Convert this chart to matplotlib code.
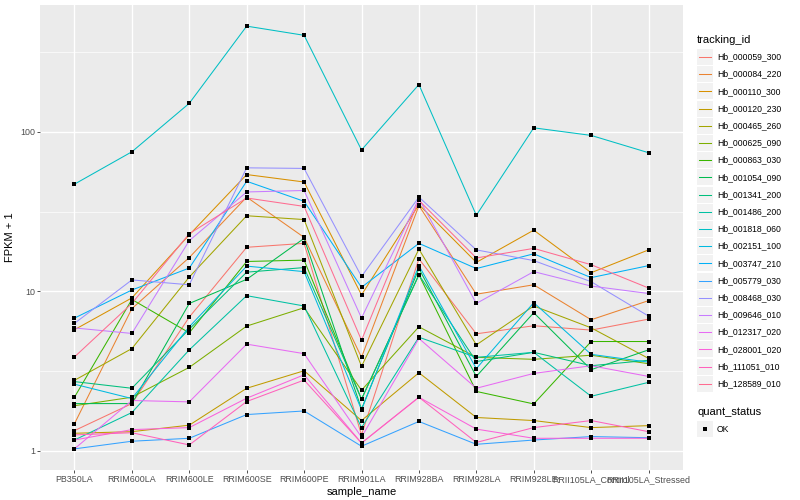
import numpy as np
import matplotlib
matplotlib.use('Agg')
import matplotlib.pyplot as plt
from matplotlib.patches import Rectangle
from matplotlib.lines import Line2D
from matplotlib.ticker import FixedLocator, NullFormatter

plt.rcParams['font.family'] = ['Liberation Sans', 'DejaVu Sans']

samples = ['PB350LA', 'RRIM600LA', 'RRIM600LE', 'RRIM600SE', 'RRIM600PE', 'RRIM901LA',
           'RRIM928BA', 'RRIM928LA', 'RRIM928LE', 'RRII105LA_Control', 'RRII105LA_Stressed']

tracking_ids = ['Hb_000059_300', 'Hb_000084_220', 'Hb_000110_300', 'Hb_000120_230',
                'Hb_000465_260', 'Hb_000625_090', 'Hb_000863_030', 'Hb_001054_090',
                'Hb_001341_200', 'Hb_001486_200', 'Hb_001818_060', 'Hb_002151_100',
                'Hb_003747_210', 'Hb_005779_030', 'Hb_008468_030', 'Hb_009646_010',
                'Hb_012317_020', 'Hb_028001_020', 'Hb_111051_010', 'Hb_128589_010']

# ggplot default hue palette for 20 levels
colors = ['#F8766D', '#EA8331', '#D89000', '#C09B00', '#A3A500', '#7CAE00', '#39B600',
          '#00BB4E', '#00BF7D', '#00C1A3', '#00BFC4', '#00BAE0', '#00B0F6', '#35A2FF',
          '#9590FF', '#C77CFF', '#E76BF3', '#FA62DB', '#FF62BC', '#FF6C91']

# FPKM + 1, one row per tracking_id, one column per sample
fpkm_plus_1 = [
    [1.34, 1.98, 6.9, 18.9, 20.0, 1.26, 16.0, 5.42, 6.09, 5.72, 6.7],
    [1.48, 7.8, 16.3, 39.0, 21.8, 3.86, 34.5, 9.6, 11.0, 6.64, 8.75],
    [5.75, 9.1, 22.6, 54.0, 48.5, 9.5, 35.0, 15.2, 24.2, 13.1, 18.2],
    [1.29, 1.32, 1.45, 2.47, 3.18, 1.55, 3.09, 1.62, 1.55, 1.40, 1.44],
    [2.77, 4.38, 12.3, 29.8, 28.2, 3.39, 18.4, 4.62, 8.1, 5.91, 3.8],
    [1.92, 2.17, 3.34, 6.06, 7.9, 2.40, 6.0, 3.86, 3.75, 3.98, 3.52],
    [2.17, 8.9, 5.5, 15.4, 15.7, 2.11, 12.7, 2.36, 1.97, 4.85, 4.85],
    [1.98, 1.98, 8.4, 11.9, 21.5, 1.83, 13.9, 2.93, 7.35, 3.23, 4.3],
    [2.72, 2.47, 5.8, 13.2, 14.1, 2.11, 12.7, 3.63, 4.15, 3.42, 3.7],
    [1.17, 1.74, 4.3, 9.4, 8.1, 1.40, 5.16, 3.86, 4.15, 2.2, 2.69],
    [47.0, 75.0, 151.0, 460.0, 403.0, 77.0, 198.0, 30.0, 106.0, 95.0, 74.0],
    [2.62, 2.13, 6.0, 14.4, 13.3, 1.81, 14.5, 3.28, 8.5, 4.03, 3.6],
    [6.8, 10.2, 14.0, 49.0, 36.7, 10.6, 20.0, 13.9, 17.2, 12.2, 14.5],
    [1.03, 1.15, 1.20, 1.69, 1.78, 1.07, 1.53, 1.10, 1.17, 1.23, 1.21],
    [6.3, 11.8, 11.0, 59.5, 59.0, 12.4, 39.0, 18.2, 15.6, 11.5, 7.0],
    [5.9, 5.45, 20.8, 42.0, 42.9, 6.8, 38.2, 8.4, 13.3, 10.8, 9.7],
    [1.03, 2.07, 2.03, 4.67, 4.07, 1.22, 5.07, 2.47, 3.06, 3.42, 2.93],
    [1.17, 1.36, 1.40, 2.14, 3.0, 1.12, 2.17, 1.37, 1.20, 1.20, 1.20],
    [1.26, 1.30, 1.09, 2.04, 2.78, 1.12, 2.17, 1.13, 1.40, 1.55, 1.32],
    [3.88, 8.4, 23.0, 38.5, 34.1, 4.94, 37.2, 16.2, 18.6, 14.7, 10.5],
]
quant_status = ['OK']

W, H = 800, 500
fig = plt.figure(figsize=(W / 100, H / 100), dpi=100)
ax = fig.add_axes([40 / W, 1 - 470 / H, 643 / W, 465 / H])
ax.set_facecolor('#EBEBEB')

x = np.arange(len(samples))
for col, vals in zip(colors, fpkm_plus_1):
    ax.plot(x, vals, color=col, lw=0.75, zorder=2)
for vals in fpkm_plus_1:
    ax.plot(x, vals, 's', color='black', ms=2.6, mew=0, zorder=3)

ax.set_yscale('log')
lo = np.log10(min(min(r) for r in fpkm_plus_1))
hi = np.log10(max(max(r) for r in fpkm_plus_1))
pad = 0.05 * (hi - lo)
ax.set_ylim(10 ** (lo - pad), 10 ** (hi + pad))
ax.set_xlim(-0.6, len(samples) - 0.4)

ax.set_yticks([1, 10, 100])
ax.set_yticklabels(['1', '10', '100'])
ax.yaxis.set_minor_locator(FixedLocator([10 ** 0.5, 10 ** 1.5, 10 ** 2.5]))
ax.yaxis.set_minor_formatter(NullFormatter())
ax.set_xticks(x)
ax.set_xticklabels(samples)

ax.grid(which='major', color='white', lw=1.0)
ax.grid(which='minor', axis='y', color='white', lw=0.5)
ax.set_axisbelow(True)
for s in ax.spines.values():
    s.set_visible(False)
ax.tick_params(which='major', length=2.0, width=0.6, color='#333333',
               labelsize=6.4, labelcolor='#4D4D4D', pad=1.5)
ax.tick_params(which='minor', length=0)
ax.set_xlabel('sample_name', fontsize=8, labelpad=2)
ax.set_ylabel('FPKM + 1', fontsize=8, labelpad=4)

# legend drawn by hand in pixel coordinates, ggplot style
def fx(px):
    return px / W

def fy(py):
    return 1 - py / H

tf = fig.transFigure
fig.text(fx(697), fy(40), 'tracking_id', fontsize=8, va='center', ha='left')
step = 17.2
for i, (name, col) in enumerate(zip(tracking_ids, colors)):
    yc = 57 + i * step
    fig.patches.append(Rectangle((fx(697), fy(yc + 8)), 16 / W, 16 / H,
                                 transform=tf, facecolor='#F2F2F2', edgecolor='none'))
    fig.lines.append(Line2D([fx(699), fx(711)], [fy(yc), fy(yc)], transform=tf,
                            color=col, lw=0.75))
    fig.text(fx(717), fy(yc), name, fontsize=6.2, va='center', ha='left')

fig.text(fx(697), fy(412), 'quant_status', fontsize=8, va='center', ha='left')
for j, st in enumerate(quant_status):
    yc = 429 + j * step
    fig.patches.append(Rectangle((fx(697), fy(yc + 8)), 16 / W, 16 / H,
                                 transform=tf, facecolor='#F2F2F2', edgecolor='none'))
    fig.lines.append(Line2D([fx(705)], [fy(yc)], transform=tf, marker='s',
                            color='black', ms=2.6, mew=0))
    fig.text(fx(717), fy(yc), st, fontsize=6.2, va='center', ha='left')

fig.savefig('out.png', dpi=100)
